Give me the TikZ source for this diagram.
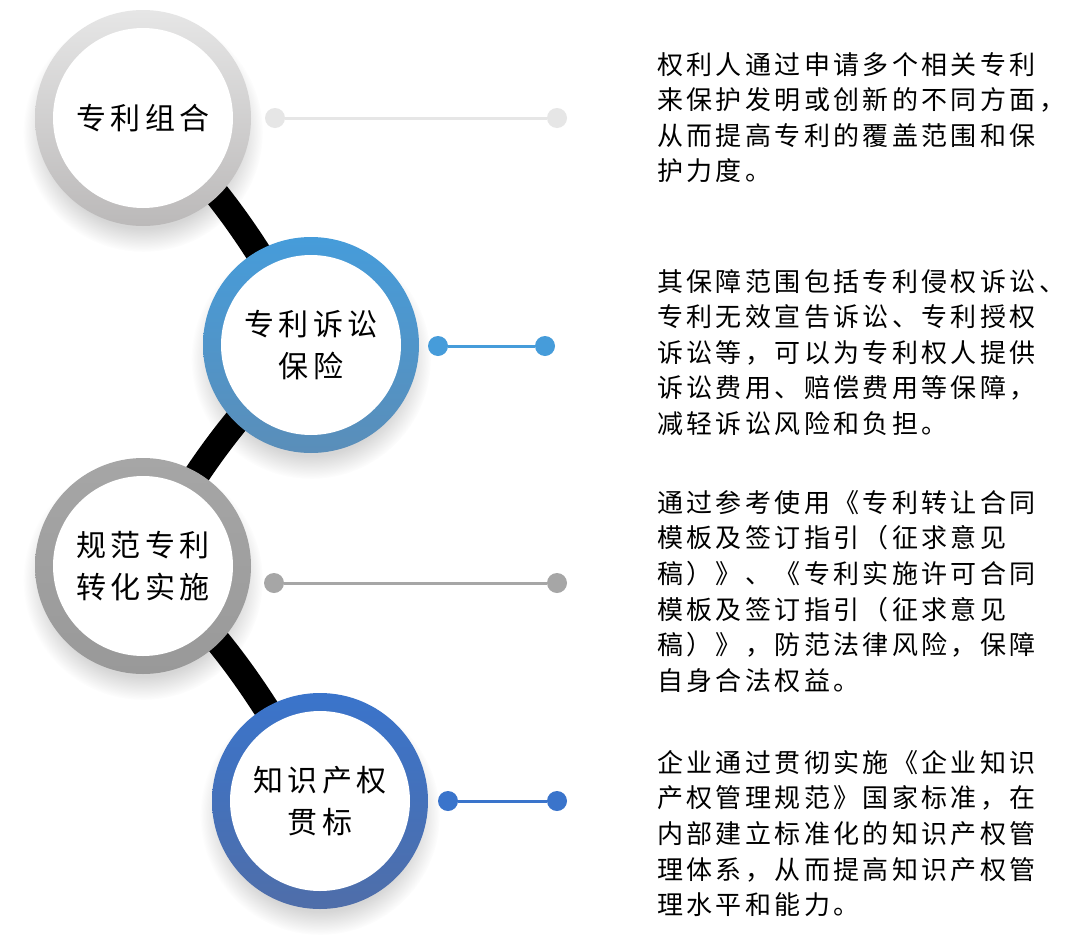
\documentclass[tikz,border=0pt]{standalone}
\usepackage{fontspec}
\newfontfamily\cjk[LetterSpace=13]{Noto Sans CJK SC}
\newfontfamily\cjkc[LetterSpace=15]{Noto Sans CJK SC}
\usetikzlibrary{fadings}
\definecolor{gA}{HTML}{E6E6E6}
\definecolor{gAb}{HTML}{BBB9B9}
\definecolor{bA}{HTML}{469CDA}
\definecolor{bAb}{HTML}{5A8EB9}
\definecolor{gB}{HTML}{A6A6A6}
\definecolor{gBb}{HTML}{999999}
\definecolor{bB}{HTML}{3A74CB}
\definecolor{bBb}{HTML}{4F6EA9}
\tikzset{
  band/.style={line width=26pt, black},
  ringdisc/.style={circle, minimum size=216pt, inner sep=0pt},
  innerdisc/.style={circle, fill=white, minimum size=180pt, inner sep=0pt, align=center,
     font=\cjkc\fontsize{30}{42}\selectfont},
  endpt/.style={circle, minimum size=20pt, inner sep=0pt},
  desc/.style={anchor=north west, inner sep=0pt, align=left,
     font=\cjk\fontsize{26}{35.6}\selectfont},
  shadowdisc/.style={black, opacity=0.16, path fading=circle with fuzzy edge 20 percent}
}
\begin{document}
\begin{tikzpicture}[x=1pt,y=1pt]
\useasboundingbox (0,0) rectangle (1080,-948);
\fill[white] (0,0) rectangle (1080,-948);
\coordinate (c1) at (143,-118);
\coordinate (c2) at (311,-345);
\coordinate (c3) at (143,-566);
\coordinate (c4) at (320,-801);
% connectors between the circles
\draw[band] (c1) .. controls (215,-178) and (266,-258) .. (c2);
\draw[band] (c2) .. controls (240,-405) and (188,-480) .. (c3);
\draw[band] (c3) .. controls (220,-628) and (272,-712) .. (c4);
% soft shadows
\foreach \c in {c1,c2,c3,c4}{
  \fill[shadowdisc] ([yshift=-14pt]\c) circle[radius=120pt];
}
% rings
\node[ringdisc, top color=gA, bottom color=gAb] (r1) at (c1) {};
\node[ringdisc, top color=bA, bottom color=bAb] (r2) at (c2) {};
\node[ringdisc, top color=gB, bottom color=gBb] (r3) at (c3) {};
\node[ringdisc, top color=bB, bottom color=bBb] (r4) at (c4) {};
\node[innerdisc] (n1) at (c1) {专利组合};
\node[innerdisc] (n2) at (c2) {专利诉讼\\保险};
\node[innerdisc] (n3) at (c3) {规范专利\\转化实施};
\node[innerdisc] (n4) at (c4) {知识产权\\贯标};
% leader lines with end dots
\node[endpt, fill=gA] (a1) at (275,-118) {};
\node[endpt, fill=gA] (b1) at (557,-118) {};
\draw[gA, line width=3pt] (a1) -- (b1);
\node[endpt, fill=bA] (a2) at (438,-346) {};
\node[endpt, fill=bA] (b2) at (545,-346) {};
\draw[bA, line width=3pt] (a2) -- (b2);
\node[endpt, fill=gB] (a3) at (274,-583) {};
\node[endpt, fill=gB] (b3) at (557,-583) {};
\draw[gB, line width=3pt] (a3) -- (b3);
\node[endpt, fill=bB] (a4) at (448,-801) {};
\node[endpt, fill=bB] (b4) at (557,-801) {};
\draw[bB, line width=3pt] (a4) -- (b4);
% descriptions
\node[desc] (t1) at (657,-52) {权利人通过申请多个相关专利\\来保护发明或创新的不同方面，\\从而提高专利的覆盖范围和保\\护力度。};
\node[desc] (t2) at (657,-269) {其保障范围包括专利侵权诉讼、\\专利无效宣告诉讼、专利授权\\诉讼等，可以为专利权人提供\\诉讼费用、赔偿费用等保障，\\减轻诉讼风险和负担。};
\node[desc] (t3) at (657,-490) {通过参考使用《专利转让合同\\模板及签订指引（征求意见\\稿）》、《专利实施许可合同\\模板及签订指引（征求意见\\稿）》，防范法律风险，保障\\自身合法权益。};
\node[desc] (t4) at (657,-750) {企业通过贯彻实施《企业知识\\产权管理规范》国家标准，在\\内部建立标准化的知识产权管\\理体系，从而提高知识产权管\\理水平和能力。};
\end{tikzpicture}
\end{document}
